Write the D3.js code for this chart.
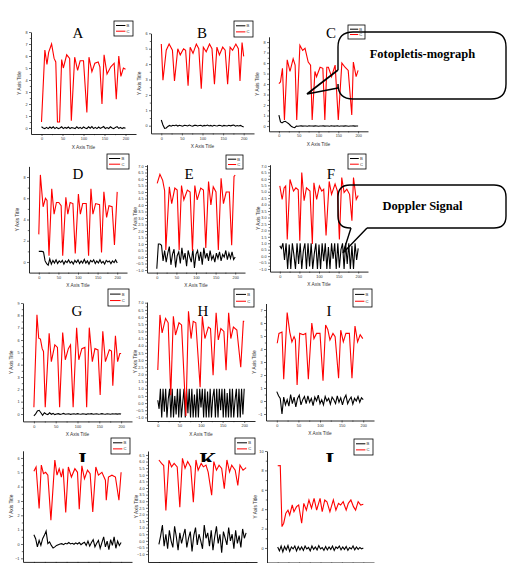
<!DOCTYPE html>
<html><head><meta charset="utf-8">
<script src="https://cdn.jsdelivr.net/npm/d3@7"></script>
<style>body{margin:0;background:#fff}svg{display:block}</style>
</head><body><svg id="c" width="507" height="563"></svg>
<script>
// ---------- data ----------
const panelLetters = ["A","B","C","D","E","F","G","H","I","J","K","L"];
const seriesNames = ["B","C"];
const xTickLabels = [0,50,100,150,200];
const calloutTexts = ["Fotopletis-mograph","Doppler Signal"];

// red series C : [x, y]
const A_C = [[0,0.5],[8,6.5],[13,5.3],[17,6.3],[24,7.0],[30,5.8],[34,5.5],[38,0.5],[43,0.5],[48,5.7],[52,5.0],[60,6.1],[67,5.8],[71,0.6],[79,5.9],[86,4.8],[92,5.6],[100,5.6],[108,1.3],[113,5.9],[120,4.7],[127,5.4],[135,5.5],[139,5.1],[144,2.0],[149,6.1],[156,4.5],[165,5.1],[173,5.4],[178,2.4],[184,6.0],[189,4.3],[195,5.0],[200,4.9]];
const B_C = [[0,5.3],[4,2.95],[12,4.9],[19,5.3],[27,4.9],[32,2.9],[40,5.0],[46,4.6],[54,5.0],[59,4.9],[65,2.6],[70,5.1],[77,4.7],[85,5.3],[91,5.0],[97,2.4],[102,5.1],[109,4.8],[117,5.3],[123,5.0],[129,2.7],[135,5.1],[141,4.6],[149,5.1],[155,4.9],[161,2.7],[167,5.1],[173,4.9],[181,5.3],[187,5.0],[191,2.9],[196,5.4],[200,4.5]];
const C_C = [[0,4.05],[4,4.2],[9,5.5],[14,0.57],[21,6.3],[28,5.2],[36,6.4],[41,5.8],[45,0.57],[53,7.7],[60,7.2],[66,7.4],[74,6.1],[80,5.8],[84,0.57],[91,5.2],[95,4.7],[104,5.6],[111,5.5],[116,0.57],[121,5.6],[125,5.6],[133,4.7],[142,5.8],[150,0.57],[159,6.0],[167,5.6],[175,5.3],[184,1.05],[188,6.1],[195,4.7],[200,5.3]];
const D_C = [[0,2.6],[4,8.2],[11,5.2],[17,6.0],[21,5.8],[26,0.6],[33,6.9],[39,4.5],[45,5.6],[51,5.6],[57,5.3],[61,0.6],[69,6.1],[74,4.5],[80,5.6],[87,5.5],[93,0.8],[101,6.4],[106,4.5],[112,5.5],[121,5.5],[127,0.6],[133,6.9],[138,4.5],[145,5.5],[155,5.4],[160,0.9],[166,6.6],[173,4.2],[179,5.3],[187,5.2],[193,1.6],[200,6.6]];
const E_C = [[1,5.67],[8,6.36],[15,5.9],[20,5.1],[23,0.54],[32,5.4],[38,4.1],[46,5.3],[52,5.15],[57,0.54],[63,5.5],[69,4.4],[78,5.15],[85,5.0],[91,0.46],[97,5.5],[103,4.4],[112,5.3],[119,5.15],[125,0.7],[132,5.8],[138,4.0],[144,5.4],[151,5.0],[157,0.54],[164,6.05],[170,4.1],[177,5.0],[185,5.0],[191,0.9],[197,6.2],[200,6.3]];
const F_C = [[0,5.45],[6,4.4],[11,5.3],[15,5.45],[19,1.3],[26,5.95],[35,5.05],[41,5.3],[47,5.15],[51,1.2],[56,6.5],[62,4.3],[68,5.3],[77,5.05],[83,0.95],[87,5.7],[94,4.4],[101,5.45],[107,5.05],[112,5.2],[118,1.6],[126,5.8],[132,4.8],[141,5.6],[147,5.05],[152,1.3],[158,6.1],[164,4.95],[171,5.2],[178,4.8],[184,2.75],[188,6.1],[195,4.4],[200,4.7]];
const G_C = [[0,0.54],[7,8.05],[11,6.15],[15,6.07],[19,5.3],[22,5.07],[26,0.54],[35,6.55],[40,4.25],[48,5.6],[54,5.4],[59,0.54],[66,6.6],[72,4.4],[79,5.3],[84,5.6],[90,0.54],[98,7.0],[103,4.4],[110,5.3],[117,5.4],[121,0.54],[127,7.0],[134,4.25],[140,5.3],[147,5.2],[152,1.55],[158,6.7],[164,4.25],[173,5.2],[178,5.1],[181,2.3],[187,6.35],[192,4.25],[197,4.9],[200,4.9]];
const H_C = [[0,2.3],[5,6.15],[10,4.9],[18,5.9],[24,5.6],[30,0.55],[36,6.05],[41,4.75],[49,5.6],[55,5.45],[65,-0.9],[71,6.4],[77,4.5],[82,5.7],[88,5.6],[98,1.1],[103,6.05],[109,4.5],[117,5.3],[122,5.2],[128,1.95],[135,6.3],[140,4.4],[146,5.2],[153,5.0],[158,2.3],[164,6.3],[169,4.5],[175,5.3],[183,5.1],[192,2.5],[198,5.7],[200,5.7]];
const I_C = [[1,4.44],[5,5.2],[12,5.3],[16,1.67],[24,6.8],[30,5.3],[35,4.55],[40,4.95],[43,4.7],[47,1.23],[53,5.2],[61,5.1],[67,5.2],[73,1.67],[81,6.0],[86,4.8],[92,5.2],[100,5.2],[107,1.56],[113,5.85],[118,5.5],[123,4.7],[130,5.2],[135,4.95],[143,1.75],[148,5.45],[154,4.55],[160,5.2],[168,5.2],[174,1.75],[181,5.77],[187,4.55],[193,5.1],[199,4.8]];
const J_C = [[0,5.07],[5,5.37],[12,2.47],[17,5.5],[22,4.9],[27,5.0],[32,4.8],[39,1.65],[48,5.85],[53,4.8],[58,5.25],[63,4.67],[67,5.25],[73,2.2],[79,5.37],[86,4.67],[94,5.25],[100,5.0],[104,2.42],[110,5.45],[116,4.55],[123,5.15],[129,4.9],[135,2.23],[142,5.37],[148,4.8],[156,5.0],[164,4.45],[166,3.05],[171,4.67],[179,4.8],[187,4.67],[195,3.05],[200,5.0]];
const K_C = [[0,6.12],[6,5.86],[11,5.7],[16,2.3],[23,6.1],[29,5.6],[35,5.86],[42,5.6],[48,2.54],[54,6.25],[60,5.5],[66,6.0],[73,5.6],[79,2.92],[85,6.12],[90,5.35],[97,5.86],[102,5.6],[108,5.73],[113,5.2],[121,3.45],[126,6.0],[132,5.35],[138,5.73],[144,5.48],[150,3.95],[156,6.12],[162,5.22],[167,5.73],[175,5.35],[181,4.2],[186,5.73],[193,5.35],[198,5.48],[200,5.55]];
const L_C = [[0,8.48],[6,8.5],[10,2.2],[14,2.55],[19,3.58],[24,3.9],[28,3.4],[34,4.43],[38,3.74],[44,4.26],[49,4.43],[56,2.55],[61,4.6],[67,3.9],[73,4.95],[79,4.1],[85,5.12],[91,3.9],[99,5.12],[104,3.74],[110,4.95],[115,4.77],[122,3.74],[130,4.95],[136,3.9],[142,4.6],[147,4.43],[153,4.77],[160,3.9],[165,4.6],[171,4.95],[177,4.26],[182,3.9],[188,4.77],[194,4.43],[200,4.5]];

// black series B : y values sampled evenly over x = 0..200
const A_B = [0.1,0.0,-0.05,0.05,-0.05,0.08,-0.02,0.1,-0.05,0.05,-0.05,0.0,0.1,-0.05,0.05,-0.02,0.08,-0.05,0.03,0.0,-0.05,0.1,-0.03,0.05,-0.05,0.08,0.0,-0.05,0.1,-0.02,0.12,-0.05,0.05,-0.05,0.08,-0.03,0.05,0.12,-0.05,0.03,-0.05,0.1,0.0,-0.05,0.05,0.12,-0.03,0.05,-0.05,0.03,-0.02];
const B_B = [0.37,0.05,-0.17,-0.15,-0.05,0.02,-0.03,0.03,0.0,0.04,-0.02,0.03,0.0,-0.03,0.03,0.01,-0.02,0.04,0.0,-0.03,0.02,0.03,-0.02,0.01,0.03,-0.03,0.02,0.0,0.04,-0.02,0.02,-0.03,0.03,0.0,-0.02,0.03,0.01,-0.03,0.02,0.0,-0.02,0.03,-0.01,0.02,0.04,-0.03,0.01,-0.02,0.02,-0.04,-0.08];
const C_B = [1.05,0.4,0.3,0.4,0.45,0.35,0.25,0.1,-0.05,-0.12,-0.15,0.0,-0.02,0.0,0.02,-0.01,0.01,0.0,-0.02,0.02,0.0,0.01,-0.01,0.02,0.0,-0.02,0.01,0.0,0.02,-0.01,0.0,0.01,-0.02,0.02,0.0,-0.01,0.01,0.02,-0.02,0.0,0.01,-0.01,0.02,0.0,-0.02,0.01,0.0,0.02,-0.01,0.01,0.0];
const D_B = [1.0,1.0,1.0,0.95,0.1,-0.15,-0.3,0.3,-0.2,0.15,-0.1,0.2,-0.15,0.1,-0.05,0.15,-0.2,0.1,-0.05,0.2,-0.1,0.05,-0.2,0.15,-0.05,0.2,-0.15,0.1,-0.1,0.25,-0.1,0.1,-0.2,0.15,0.0,0.2,-0.15,0.1,-0.1,0.2,-0.1,0.05,-0.2,0.15,0.0,0.1,-0.15,0.1,-0.05,0.2,-0.1];
const E_B = [-0.9,1.0,1.0,0.9,-0.3,0.5,-0.4,0.3,0.8,-0.6,0.2,0.6,-0.8,0.1,0.4,-0.5,0.7,-0.2,0.3,-0.7,0.5,0.0,-0.4,0.6,-0.85,0.2,0.5,-0.3,0.4,-0.6,0.7,-0.1,0.3,-0.3,0.5,-0.2,0.1,-0.4,0.3,-0.1,0.4,-0.3,0.2,0.0,0.5,-0.2,0.3,-0.1,0.4,-0.2,0.0];
const F_B = [0.8,0.6,1.0,-0.3,1.0,-1.0,0.9,-1.0,1.0,0.1,-1.0,1.0,-0.6,1.0,-1.0,0.4,1.0,-1.0,1.0,-0.8,1.0,-1.0,0.2,1.0,-1.0,0.9,-1.0,1.0,-0.4,1.0,-1.0,0.7,-1.0,1.0,-0.2,1.0,-1.0,1.0,-0.9,0.5,1.0,-1.0,1.0,-0.6,1.0,-1.0,0.8,-1.0,1.0,-0.3,0.6];
const G_B = [-0.15,0.0,0.25,0.3,0.1,-0.1,0.1,0.0,-0.05,0.1,-0.02,0.05,-0.05,0.0,0.03,-0.03,0.0,0.05,-0.02,0.0,0.02,-0.03,0.0,0.02,-0.02,0.03,0.0,-0.02,0.02,0.0,-0.03,0.02,0.0,0.03,-0.02,0.0,0.02,-0.02,0.0,0.03,0.0,-0.02,0.02,0.0,-0.02,0.02,0.0,0.01,-0.01,0.02,0.0];
const H_B = [0.2,-0.4,1.0,-1.0,1.0,-0.6,1.0,-1.0,0.3,1.0,-1.0,1.0,-1.0,0.5,-0.8,1.0,-1.0,1.0,-1.0,0.0,1.0,-1.0,1.0,-0.7,1.0,-1.0,1.0,-1.0,0.6,-1.0,1.0,-1.0,1.0,-0.3,1.0,-1.0,1.0,-1.0,0.8,-1.0,1.0,-1.0,0.4,1.0,-1.0,1.0,-1.0,1.0,-0.5,1.0,-1.0,1.0,-1.0,0.7,-1.0,1.0,-1.0,1.0,-1.0,0.2,1.0,-1.0,1.0,-1.0,1.0,-0.8,1.0];
const I_B = [0.72,0.4,0.2,-1.0,0.3,-0.3,0.1,-0.4,0.5,-0.2,0.3,-0.45,0.2,0.45,-0.3,0.1,0.35,-0.2,0.4,-0.1,0.2,-0.35,0.3,0.0,0.45,-0.2,0.1,-0.3,0.35,0.0,0.2,-0.25,0.3,0.1,-0.2,0.4,-0.1,0.25,-0.3,0.2,0.45,-0.2,0.1,0.3,-0.25,0.2,0.0,0.35,-0.1,0.25,0.1];
const J_B = [0.65,0.37,-0.2,0.25,-0.1,0.37,0.6,0.9,0.02,0.14,-0.1,-0.28,-0.2,-0.1,-0.05,0.0,0.02,-0.05,0.05,0.0,0.1,0.0,0.05,-0.02,0.08,0.0,0.1,-0.05,0.05,0.12,-0.1,0.2,-0.15,0.1,0.3,-0.2,0.05,0.25,-0.3,0.1,0.5,-0.2,0.2,-0.4,0.3,-0.1,0.5,-0.3,0.2,-0.1,0.1];
const K_B = [-0.26,0.38,1.2,-0.4,0.5,-0.6,0.8,0.0,-0.5,1.1,0.3,-0.7,0.6,-0.2,0.4,0.9,-0.5,0.2,0.7,-0.8,0.4,1.0,-0.3,0.5,0.0,-0.6,1.2,0.2,0.6,-0.4,0.8,-0.7,0.3,1.1,-0.2,0.5,-0.9,0.7,0.2,-0.3,1.0,0.0,0.5,-0.6,0.8,-0.2,0.4,-0.5,0.9,0.2,0.6];
const L_B = [0.1,-0.3,0.2,-0.4,0.15,-0.2,0.25,-0.35,0.1,-0.1,0.2,-0.3,0.15,-0.2,0.1,-0.25,0.2,-0.1,0.05,-0.3,0.2,-0.15,0.1,-0.2,0.25,-0.1,0.05,-0.25,0.15,-0.2,0.1,-0.15,0.2,-0.25,0.1,-0.05,0.2,-0.2,0.1,-0.15,0.15,-0.25,0.05,-0.1,0.2,-0.2,0.1,-0.15,0.05,-0.1,0.0];

const seriesC = {A:A_C,B:B_C,C:C_C,D:D_C,E:E_C,F:F_C,G:G_C,H:H_C,I:I_C,J:J_C,K:K_C,L:L_C};
const seriesB = {A:A_B,B:B_B,C:C_B,D:D_B,E:E_B,F:F_B,G:G_B,H:H_B,I:I_B,J:J_B,K:K_B,L:L_B};

// y tick values per panel
const yTicks = {
  A:[0,1,2,3,4,5,6,7,8], B:[0,1,2,3,4,5,6], C:[0,1,2,3,4,5,6,7,8],
  D:[0,2,4,6,8], E:d3.range(-1,7.01,0.5), F:d3.range(-1,7.01,0.5),
  G:[0,1,2,3,4,5,6,7,8,9], H:d3.range(-1,7.01,0.5), I:[-1,0,1,2,3,4,5,6,7],
  J:[-1,0,1,2,3,4,5,6], K:d3.range(-1,6.51,0.5), L:[0,2,4,6,8,10]
};
const yDomains = {
  A:[-0.5,8], B:[-0.5,6], C:[-0.5,8.5], D:[-1,9], E:[-1.2,7.1], F:[-1.2,7.1],
  G:[-0.6,9], H:[-1.25,7.05], I:[-1.5,7.5], J:[-1.25,6.5], K:[-1.6,6.8], L:[-1.5,10]
};

// ---------- layout (pixels) ----------
const layout = {
  A:{L:31,R:136,yp:[134,32],   t:[78,38],  lg:[114,21,19,15]},
  B:{L:151,R:254,yp:[133.4,33.3],t:[202,38], lg:[234,21,19,16]},
  C:{L:269,R:368,yp:[131.3,36.8],t:[331,38], lg:[348,25,17,14]},
  D:{L:29,R:127,yp:[272.6,166.4],t:[78,179], lg:[107,154,22,15]},
  E:{L:147,R:245,yp:[272.6,164.7],t:[189,179], lg:[226,155,17,14]},
  F:{L:270,R:368,yp:[271.6,164.7],t:[331,179], lg:[348,154,18,15]},
  G:{L:23,R:132,yp:[421.4,303],t:[77,316], lg:[108,289,21,17]},
  H:{L:147,R:255,yp:[421,302],t:[203,316], lg:[234,289,20,18]},
  I:{L:266,R:374,yp:[420.5,303.5],t:[329,316], lg:[353,289,19,18]},
  J:{L:23,R:132,yp:[561.9,450.8],t:[81,467], lg:[111,438,19,16], clip:462},
  K:{L:148,R:257,yp:[562,451],t:[208,467], lg:[235,438,20,16], clip:462},
  L:{L:267,R:374,yp:[562.5,451],t:[333,467], lg:[354,439,19,16], clip:462}
};

const svg = d3.select("#c");
const SANS = "'Liberation Sans', Arial, sans-serif";
const SERIF = "'Liberation Serif', 'Times New Roman', serif";

panelLetters.forEach(id => {
  const p = layout[id];
  const x = d3.scaleLinear().domain([-25,225]).range([p.L,p.R]);
  const y = d3.scaleLinear().domain(yDomains[id]).range(p.yp);
  const g = svg.append("g");
  const halfStep = yTicks[id].length>1 ? (yTicks[id][1]-yTicks[id][0]) : 1;
  const fmt = (halfStep % 1 !== 0) ? d3.format(".1f") : d3.format("d");

  // x axis
  g.append("g").attr("transform",`translate(0,${p.yp[0]})`)
    .call(d3.axisBottom(x).tickValues(xTickLabels).tickSize(2).tickSizeOuter(0).tickPadding(1.5).tickFormat(d3.format("d")));
  g.append("g").attr("transform",`translate(0,${p.yp[0]})`)
    .call(d3.axisBottom(x).tickValues([25,75,125,175]).tickSize(1.2).tickSizeOuter(0).tickFormat(""))
    .select(".domain").remove();
  // y axis
  g.append("g").attr("transform",`translate(${p.L},0)`)
    .call(d3.axisLeft(y).tickValues(yTicks[id]).tickSize(2).tickSizeOuter(0).tickPadding(1.5).tickFormat(fmt));
  const yt = yTicks[id];
  const minors = yt.slice(0,-1).map((v,i)=> (v+yt[i+1])/2);
  g.append("g").attr("transform",`translate(${p.L},0)`)
    .call(d3.axisLeft(y).tickValues(minors).tickSize(1.2).tickSizeOuter(0).tickFormat(""))
    .select(".domain").remove();
  g.selectAll(".domain").attr("stroke","#111").attr("stroke-width",0.9);
  g.selectAll(".tick line").attr("stroke","#111").attr("stroke-width",0.6);
  g.selectAll(".tick text").attr("font-family",SANS).attr("font-size",3.8).attr("fill","#333");

  // axis titles
  g.append("text").attr("x",(p.L+p.R)/2).attr("y",p.yp[0]+14.5)
    .attr("text-anchor","middle").attr("font-family",SANS).attr("font-size",4.8).attr("fill","#333")
    .text("X Axis Title");
  g.append("text").attr("transform",`translate(${p.L-10.5},${(p.yp[0]+p.yp[1])/2}) rotate(-90)`)
    .attr("text-anchor","middle").attr("font-family",SANS).attr("font-size",4.8).attr("fill","#333")
    .text("Y Axis Title");

  // lines
  const bVals = seriesB[id];
  const stepB = 200/(bVals.length-1);
  const lineB = d3.line().x((d,i)=>x(i*stepB)).y(d=>y(d));
  g.append("path").attr("d",lineB(bVals)).attr("fill","none").attr("stroke","#000").attr("stroke-width",1.1);
  const lineC = d3.line().x(d=>x(d[0])).y(d=>y(d[1]));
  g.append("path").attr("d",lineC(seriesC[id])).attr("fill","none").attr("stroke","#ff0000").attr("stroke-width",1.1);

  // panel title
  if (p.clip) {
    const cid = "clip"+id;
    svg.append("clipPath").attr("id",cid).append("rect")
      .attr("x",p.t[0]-20).attr("y",p.clip-30).attr("width",40).attr("height",30);
    g.append("text").attr("x",p.t[0]).attr("y",p.t[1]).attr("text-anchor","middle")
      .attr("font-family",SERIF).attr("font-weight","bold").attr("font-size",22).attr("fill","#000")
      .attr("clip-path",`url(#${cid})`).text(id);
  } else {
    g.append("text").attr("x",p.t[0]).attr("y",p.t[1]).attr("text-anchor","middle")
      .attr("font-family",SERIF).attr("font-size",15).attr("fill","#000").text(id);
  }

  // legend
  const [lx,ly,lw,lh] = p.lg;
  const lg = g.append("g");
  lg.append("rect").attr("x",lx).attr("y",ly).attr("width",lw).attr("height",lh)
    .attr("fill","#fff").attr("stroke","#000").attr("stroke-width",0.8);
  seriesNames.forEach((s,i)=>{
    const yy = ly + lh*(i===0?0.3:0.68);
    lg.append("line").attr("x1",lx+2).attr("x2",lx+lw*0.6).attr("y1",yy).attr("y2",yy)
      .attr("stroke", i===0?"#000":"#ff0000").attr("stroke-width",1);
    lg.append("text").attr("x",lx+lw*0.66).attr("y",yy+1.4).attr("font-family",SANS)
      .attr("font-size",4.2).attr("fill","#333").text(s);
  });
});

// ---------- callouts ----------
function bubbleLeft(x0,y0,x1,y1,r,gapA,gapB){
  return `M${x0},${gapB} L${x0},${y1-r} Q${x0},${y1} ${x0+r},${y1} L${x1-r},${y1} Q${x1},${y1} ${x1},${y1-r} L${x1},${y0+r} Q${x1},${y0} ${x1-r},${y0} L${x0+r},${y0} Q${x0},${y0} ${x0},${y0+r} L${x0},${gapA}`;
}
function bubbleBottom(x0,y0,x1,y1,r,gapA,gapB){
  return `M${gapB},${y1} L${x1-r},${y1} Q${x1},${y1} ${x1},${y1-r} L${x1},${y0+r} Q${x1},${y0} ${x1-r},${y0} L${x0+r},${y0} Q${x0},${y0} ${x0},${y0+r} L${x0},${y1-r} Q${x0},${y1} ${x0+r},${y1} L${gapA},${y1}`;
}
const co = svg.append("g").attr("fill","none").attr("stroke","#000").attr("stroke-width",1.4);
co.append("path").attr("d",bubbleLeft(338,32,506,99,15,70,88));
co.append("path").attr("d","M338,70 L307,94 L338,88").attr("stroke-width",1.6);
co.append("path").attr("d",bubbleBottom(338,185,506,228,12,351,367));
co.append("path").attr("d","M351,228 L343,253 L367,228").attr("stroke-width",1.4);

svg.append("text").attr("x",422.5).attr("y",58).attr("text-anchor","middle")
  .attr("font-family",SERIF).attr("font-weight","bold").attr("font-size",12.5).text(calloutTexts[0]);
svg.append("text").attr("x",422.5).attr("y",210).attr("text-anchor","middle")
  .attr("font-family",SERIF).attr("font-weight","bold").attr("font-size",12.5).text(calloutTexts[1]);
</script></body></html>
